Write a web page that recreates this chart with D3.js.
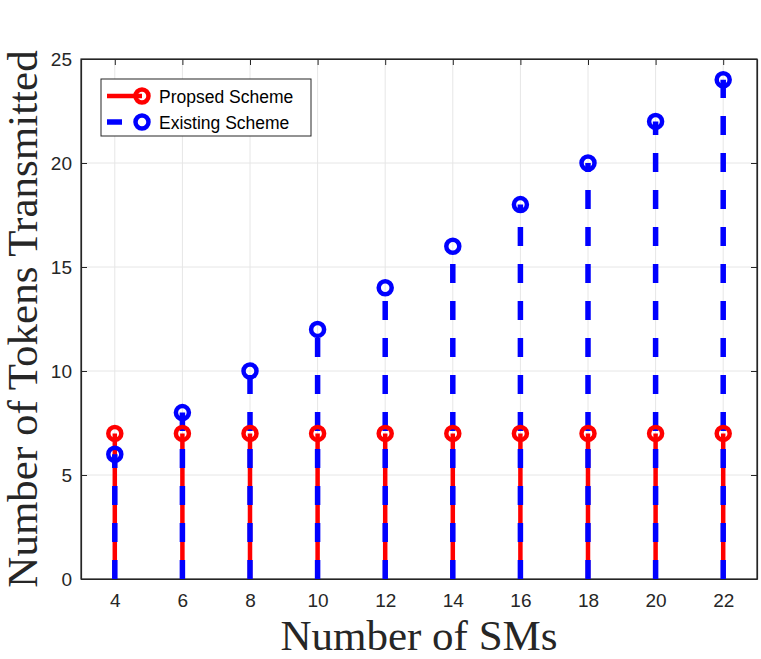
<!DOCTYPE html>
<html><head><meta charset="utf-8">
<script src="https://cdn.jsdelivr.net/npm/d3@7"></script>
<style>body{margin:0;background:#fff}svg{display:block}</style>
</head><body><svg id="c" width="761" height="659"></svg>
<script>
const smCounts = [4, 6, 8, 10, 12, 14, 16, 18, 20, 22];
const proposed = [7, 7, 7, 7, 7, 7, 7, 7, 7, 7];
const existing = [6, 8, 10, 12, 14, 16, 18, 20, 22, 24];
const xTicks = [4, 6, 8, 10, 12, 14, 16, 18, 20, 22];
const yTicks = [0, 5, 10, 15, 20, 25];
const seriesNames = ["Propsed Scheme", "Existing Scheme"];
const seriesColors = ["#ff0000", "#0000ff"];

const svg = d3.select("#c");
const L = 81, R = 757, T = 59, B = 579;
const x = d3.scaleLinear().domain([3, 23]).range([L, R]);
const y = d3.scaleLinear().domain([0, 25]).range([B, T]);
const axisCol = "#262626";

// grid
const g = svg.append("g");
g.selectAll(".gx").data(xTicks).enter().append("line")
  .attr("x1", d => x(d)).attr("x2", d => x(d)).attr("y1", T).attr("y2", B)
  .attr("stroke", "#e6e6e6").attr("stroke-width", 1);
g.selectAll(".gy").data(yTicks).enter().append("line")
  .attr("x1", L).attr("x2", R).attr("y1", d => y(d)).attr("y2", d => y(d))
  .attr("stroke", "#e6e6e6").attr("stroke-width", 1);

// axes
const fmt = d3.format("d");
const ax = svg.append("g").attr("transform", `translate(0,${B})`)
  .call(d3.axisBottom(x).tickValues(xTicks).tickFormat(fmt).tickSizeInner(-6).tickSizeOuter(0).tickPadding(15));
const axT = svg.append("g").attr("transform", `translate(0,${T})`)
  .call(d3.axisTop(x).tickValues(xTicks).tickFormat("").tickSizeInner(-6).tickSizeOuter(0));
const ay = svg.append("g").attr("transform", `translate(${L},0)`)
  .call(d3.axisLeft(y).tickValues(yTicks).tickFormat(fmt).tickSizeInner(-6).tickSizeOuter(0).tickPadding(9));
const ayR = svg.append("g").attr("transform", `translate(${R},0)`)
  .call(d3.axisRight(y).tickValues(yTicks).tickFormat("").tickSizeInner(-6).tickSizeOuter(0));
[ax, axT, ay, ayR].forEach(a => {
  a.attr("font-size", 19).attr("font-family", "Liberation Sans, Arial, sans-serif");
  a.select(".domain").attr("stroke", axisCol).attr("stroke-width", 1.2);
  a.selectAll(".tick line").attr("stroke", axisCol).attr("stroke-width", 1);
  a.selectAll("text").attr("fill", axisCol);
});
svg.append("rect").attr("x", L).attr("y", T).attr("width", R - L).attr("height", B - T)
  .attr("fill", "none").attr("stroke", axisCol).attr("stroke-width", 1.2);

// stems
const plot = svg.append("g");
plot.selectAll(".sr").data(smCounts).enter().append("line")
  .attr("x1", d => x(d)).attr("x2", d => x(d))
  .attr("y1", y(0)).attr("y2", (d, i) => y(proposed[i]))
  .attr("stroke", seriesColors[0]).attr("stroke-width", 4.5);
plot.selectAll(".sb").data(smCounts).enter().append("line")
  .attr("x1", d => x(d)).attr("x2", d => x(d))
  .attr("y1", y(0)).attr("y2", (d, i) => y(existing[i]))
  .attr("stroke", seriesColors[1]).attr("stroke-width", 5.5)
  .attr("stroke-dasharray", "19,18");
plot.selectAll(".mr").data(smCounts).enter().append("circle")
  .attr("cx", d => x(d)).attr("cy", (d, i) => y(proposed[i])).attr("r", 6.5)
  .attr("fill", "none").attr("stroke", seriesColors[0]).attr("stroke-width", 4.5);
plot.selectAll(".mb").data(smCounts).enter().append("circle")
  .attr("cx", d => x(d)).attr("cy", (d, i) => y(existing[i])).attr("r", 6.5)
  .attr("fill", "none").attr("stroke", seriesColors[1]).attr("stroke-width", 4.5);

// labels
svg.append("text").attr("x", (L + R) / 2).attr("y", 650).attr("text-anchor", "middle")
  .attr("font-family", "Liberation Serif, Times New Roman, serif").attr("font-size", 43)
  .attr("fill", axisCol).text("Number of SMs");
svg.append("text").attr("transform", `translate(37,${(T + B) / 2}) rotate(-90)`).attr("text-anchor", "middle")
  .attr("font-family", "Liberation Serif, Times New Roman, serif").attr("font-size", 43)
  .attr("fill", axisCol).text("Number of Tokens Transmitted");

// legend
const lg = svg.append("g");
lg.append("rect").attr("x", 101).attr("y", 79).attr("width", 210).attr("height", 57)
  .attr("fill", "#fff").attr("stroke", axisCol).attr("stroke-width", 1);
const rows = [96, 122];
seriesNames.forEach((name, i) => {
  const yy = rows[i];
  lg.append("line").attr("x1", 107).attr("x2", 142).attr("y1", yy).attr("y2", yy)
    .attr("stroke", seriesColors[i]).attr("stroke-width", i === 0 ? 4.5 : 5.5)
    .attr("stroke-dasharray", i === 0 ? null : "15,40");
  lg.append("circle").attr("cx", 142).attr("cy", yy).attr("r", 6.5)
    .attr("fill", "none").attr("stroke", seriesColors[i]).attr("stroke-width", 4.5);
  lg.append("text").attr("x", 159).attr("y", yy + 6.5)
    .attr("font-family", "Liberation Sans, Arial, sans-serif").attr("font-size", 17.5)
    .attr("fill", "#000").text(name);
});
</script></body></html>
